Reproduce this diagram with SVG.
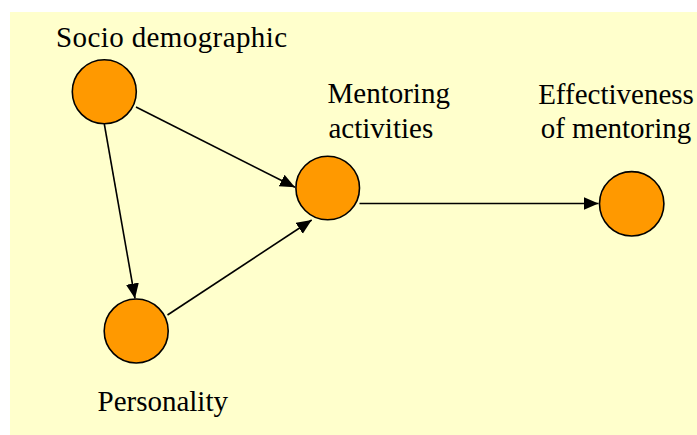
<svg xmlns="http://www.w3.org/2000/svg" width="697" height="435" viewBox="0 0 697 435">
  <defs>
    <marker id="arrow" markerUnits="userSpaceOnUse" markerWidth="17" markerHeight="15" refX="15" refY="6.5" orient="auto">
      <path d="M0,0 L15,6.5 L0,13 Z" fill="#000"/>
    </marker>
    <style>
      .node circle { fill: #FF9900; stroke: #000; stroke-width: 1.6; }
      .label { font-family: "Liberation Serif", "Times New Roman", serif; font-size: 29px; fill: #000; }
      .edge { stroke: #000; stroke-width: 1.6; fill: none; marker-end: url(#arrow); }
    </style>
  </defs>

  <!-- panel background -->
  <rect x="10" y="12" width="687" height="423" fill="#FFFFCC"/>

  <g id="connectors">
    <line class="edge" x1="136" y1="107" x2="295" y2="187.3"/>
    <line class="edge" x1="104.3" y1="124" x2="135" y2="298.5"/>
    <line class="edge" x1="167.5" y1="315" x2="311.7" y2="220"/>
    <line class="edge" x1="359.5" y1="203.5" x2="598.5" y2="203.5"/>
  </g>

  <g id="socio-demographic" class="node">
    <circle cx="104.3" cy="91.7" r="32"/>
    <text class="label" x="56" y="46.7" textLength="231">Socio demographic</text>
  </g>

  <g id="personality" class="node">
    <circle cx="136.2" cy="331" r="32"/>
    <text class="label" x="97.5" y="411">Personality</text>
  </g>

  <g id="mentoring-activities" class="node">
    <circle cx="327.7" cy="188" r="31.8"/>
    <text class="label" x="327.5" y="103.3">Mentoring</text>
    <text class="label" x="328.5" y="138.3">activities</text>
  </g>

  <g id="effectiveness-of-mentoring" class="node">
    <circle cx="631.7" cy="203.8" r="32.2"/>
    <text class="label" x="616" y="104.3" text-anchor="middle">Effectiveness</text>
    <text class="label" x="616" y="138.3" text-anchor="middle">of mentoring</text>
  </g>
</svg>
